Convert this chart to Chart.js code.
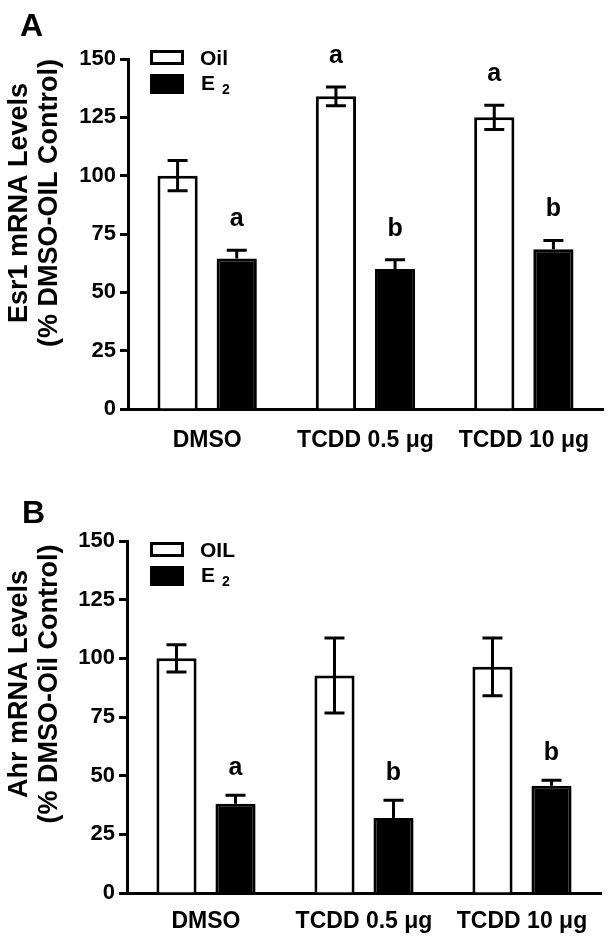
<!DOCTYPE html>
<html>
<head>
<meta charset="utf-8">
<script src="https://cdn.jsdelivr.net/npm/chart.js@4.4.1/dist/chart.umd.min.js"></script>
<style>
    body { margin: 0; background: #ffffff; }
    .panel { position: absolute; left: 0; width: 612px; height: 473px; }
    #panelA { top: 0; }
    #panelB { top: 473px; }
</style>
</head>
<body>
<div class="panel" id="panelA"><canvas id="chartA" width="612" height="473"></canvas></div>
<div class="panel" id="panelB"><canvas id="chartB" width="612" height="473"></canvas></div>
<script>
// Categories and tick values
const categories = ['DMSO', 'TCDD 0.5 \u03bcg', 'TCDD 10 \u03bcg'];
const yTicks = [0, 25, 50, 75, 100, 125, 150];

// Panel A: Esr1 mRNA
const esr1Oil = [100, 134, 125];
const esr1OilErr = [6.5, 4, 5.2];
const esr1E2 = [64.5, 60, 68.5];
const esr1E2Err = [3.5, 4, 3.7];
const esr1OilLetters = ['', 'a', 'a'];
const esr1E2Letters = ['a', 'b', 'b'];

// Panel B: Ahr mRNA
const ahrOil = [100, 92.7, 96.4];
const ahrOilErr = [5.8, 16, 12.3];
const ahrE2 = [38, 32, 45.7];
const ahrE2Err = [3.7, 7.5, 2.3];
const ahrOilLetters = ['', '', ''];
const ahrE2Letters = ['a', 'b', 'b'];

const FONT = 'Liberation Sans, Arial, Helvetica, sans-serif';

// draws error bars, significance letters, legend, panel letter and y title
const decorPlugin = {
    id: 'decor',
    afterDatasetsDraw(chart) {
        const ctx = chart.ctx;
        const cfg = chart.options.plugins.decor;
        const yScale = chart.scales.y;

        ctx.save();
        ctx.strokeStyle = '#000';
        ctx.fillStyle = '#000';
        ctx.lineWidth = 3;

        chart.data.datasets.forEach((ds, i) => {
            const meta = chart.getDatasetMeta(i);
            meta.data.forEach((bar, j) => {
                const v = ds.data[j];
                const e = ds.errors[j];
                const yTop = yScale.getPixelForValue(v + e);
                const yBot = ds.lowerError ? yScale.getPixelForValue(v - e) : bar.y;
                const half = 10;
                ctx.beginPath();
                ctx.moveTo(bar.x, yBot);
                ctx.lineTo(bar.x, yTop);
                ctx.moveTo(bar.x - half, yTop);
                ctx.lineTo(bar.x + half, yTop);
                if (ds.lowerError) {
                    ctx.moveTo(bar.x - half, yBot);
                    ctx.lineTo(bar.x + half, yBot);
                }
                ctx.stroke();

                const letter = ds.letters[j];
                if (letter) {
                    ctx.font = 'bold 25px ' + FONT;
                    ctx.textAlign = 'center';
                    ctx.textBaseline = 'middle';
                    ctx.fillText(letter, bar.x, yTop - cfg.letterGap);
                }
            });
        });

        // legend
        const lx = cfg.legendX, ly = cfg.legendY;
        ctx.strokeRect(lx + 1.5, ly + 1.5, 31, 12);
        ctx.fillRect(lx, ly + 24, 34, 20);
        ctx.font = 'bold 21px ' + FONT;
        ctx.textAlign = 'left';
        ctx.textBaseline = 'alphabetic';
        ctx.fillText(cfg.oilLabel, lx + 50, ly + 15);
        ctx.fillText('E', lx + 51, ly + 40);
        ctx.font = 'bold 14px ' + FONT;
        ctx.fillText('2', lx + 72, ly + 44);

        // panel letter
        ctx.font = 'bold 32px ' + FONT;
        ctx.fillText(cfg.panel, cfg.panelX, cfg.panelY);

        // y axis title, two lines
        ctx.font = 'bold 27px ' + FONT;
        ctx.textAlign = 'center';
        ctx.textBaseline = 'middle';
        cfg.yTitle.forEach((line, k) => {
            ctx.save();
            ctx.translate(cfg.yTitleX[k], cfg.yTitleY);
            ctx.rotate(-Math.PI / 2);
            ctx.fillText(line, 0, 0);
            ctx.restore();
        });
        ctx.restore();
    }
};

function makeChart(canvasId, oil, oilErr, oilLetters, e2, e2Err, e2Letters, geo, decor) {
    const ctx = document.getElementById(canvasId).getContext('2d');
    return new Chart(ctx, {
        type: 'bar',
        data: {
            labels: categories,
            datasets: [{
                label: decor.oilLabel,
                data: oil,
                errors: oilErr,
                letters: oilLetters,
                lowerError: true,
                backgroundColor: '#ffffff',
                borderColor: '#000000',
                borderWidth: 3,
                categoryPercentage: 0.747,
                barPercentage: 0.68
            }, {
                label: 'E2',
                data: e2,
                errors: e2Err,
                letters: e2Letters,
                lowerError: false,
                backgroundColor: '#000000',
                borderColor: '#000000',
                borderWidth: 3,
                categoryPercentage: 0.747,
                barPercentage: 0.68
            }]
        },
        options: {
            responsive: false,
            animation: false,
            layout: {
                padding: { left: 0, top: geo.top, right: geo.right, bottom: geo.bottom }
            },
            scales: {
                x: {
                    grid: { display: false, drawTicks: false },
                    border: { display: true, color: '#000', width: 3 },
                    ticks: {
                        color: '#000',
                        padding: geo.labelPad,
                        maxRotation: 0,
                        font: { family: FONT, size: 23, weight: 'bold' }
                    },
                    afterFit: scale => { scale.height = 50; }
                },
                y: {
                    min: 0,
                    max: 150,
                    afterBuildTicks: scale => {
                        scale.ticks = yTicks.map(v => ({ value: v }));
                    },
                    grid: {
                        drawOnChartArea: false,
                        drawTicks: true,
                        tickLength: 8,
                        tickWidth: 3,
                        tickColor: '#000'
                    },
                    border: { display: true, color: '#000', width: 3 },
                    ticks: {
                        color: '#000',
                        padding: 4,
                        font: { family: FONT, size: 22, weight: 'bold' }
                    },
                    afterFit: scale => { scale.width = geo.left; }
                }
            },
            plugins: {
                legend: { display: false },
                tooltip: { enabled: false },
                decor: decor
            }
        },
        plugins: [decorPlugin]
    });
}

makeChart('chartA', esr1Oil, esr1OilErr, esr1OilLetters, esr1E2, esr1E2Err, esr1E2Letters,
    { left: 128, top: 59, right: 9, bottom: 14, labelPad: 18 },
    {
        panel: 'A', panelX: 20, panelY: 36,
        oilLabel: 'Oil', legendX: 150, legendY: 50,
        yTitle: ['Esr1 mRNA Levels', '(% DMSO-OIL Control)'],
        yTitleX: [20, 50], yTitleY: 203,
        letterGap: 31
    });

makeChart('chartB', ahrOil, ahrOilErr, ahrOilLetters, ahrE2, ahrE2Err, ahrE2Letters,
    { left: 127, top: 68, right: 11, bottom: 3, labelPad: 15 },
    {
        panel: 'B', panelX: 22, panelY: 50,
        oilLabel: 'OIL', legendX: 150, legendY: 69,
        yTitle: ['Ahr mRNA Levels', '(% DMSO-Oil Control)'],
        yTitleX: [20, 50], yTitleY: 211,
        letterGap: 27
    });
</script>
</body>
</html>
